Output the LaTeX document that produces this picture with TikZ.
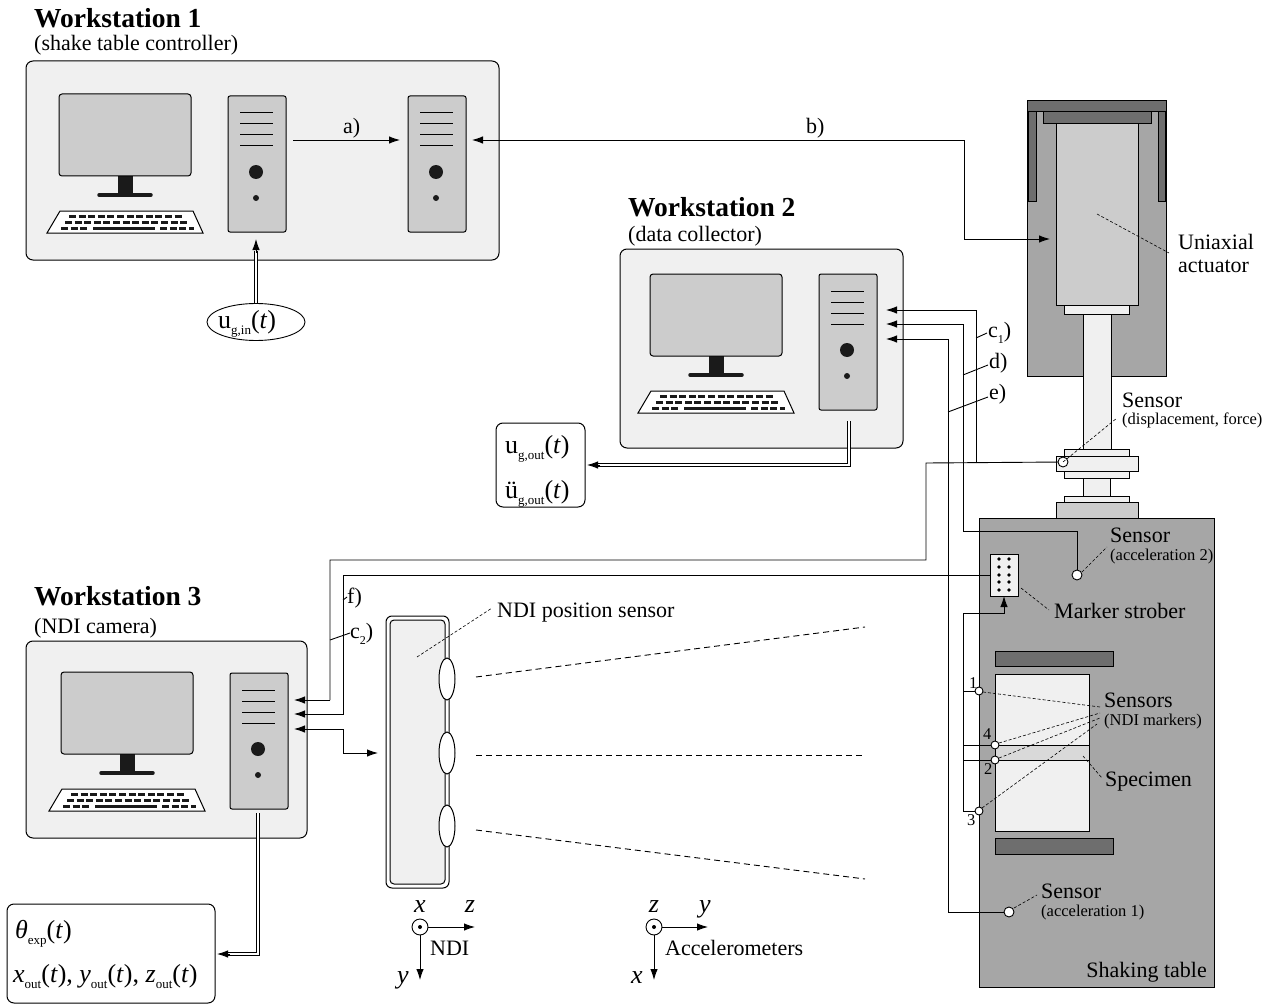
\documentclass[tikz,border=0pt]{standalone}
\usepackage{fontspec}
\setmainfont{Liberation Serif}
\usetikzlibrary{arrows.meta,calc,shapes.geometric}

\definecolor{lightfill}{HTML}{F0F0F0}
\definecolor{midfill}{HTML}{CCCCCC}
\definecolor{housing}{HTML}{A6A6A6}
\definecolor{darkplate}{HTML}{6E6E6E}
\definecolor{keydark}{HTML}{1A1A1A}
\definecolor{band}{HTML}{D9D9D9}

\newcommand\fsTitle{\fontsize{27.5}{30}\selectfont\bfseries}
\newcommand\fsSub{\fontsize{22}{24}\selectfont}
\newcommand\fsLab{\fontsize{22}{24}\selectfont}
\newcommand\fsSmall{\fontsize{16.5}{18}\selectfont}
\newcommand\fsMath{\fontsize{26}{28}\selectfont}
\newcommand\sbx[1]{\raisebox{-0.25em}{\fontsize{13}{13}\selectfont #1}}
\newcommand\sbs[1]{\raisebox{-0.3em}{\fontsize{12}{12}\selectfont #1}}

\tikzset{
  wire/.style={line width=0.9pt},
  arr/.style={wire,-{Latex[length=11pt,width=7.5pt]}},
  darr/.style={wire,{Latex[length=11pt,width=7.5pt]}-{Latex[length=11pt,width=7.5pt]}},
  dbl/.style={double, double distance=2.2pt, line width=0.7pt},
  lead/.style={dash pattern=on 3pt off 2pt, line width=0.6pt},
  ray/.style={dash pattern=on 6pt off 4pt, line width=0.9pt},
  wsbox/.style={fill=lightfill, draw, line width=1pt, rounded corners=7pt},
  part/.style={draw, line width=0.9pt},
  txt/.style={inner sep=0pt, anchor=base west},
  monitor/.pic={
    \fill[keydark] (59,80) rectangle (74,101);
    \draw[keydark, line width=3.5pt, line cap=round] (40,101) -- (92,101);
    \draw[fill=midfill, line width=1pt, rounded corners=3pt] (0,0) rectangle (132,82);
    \draw[fill=white, line width=1pt] (1,117) -- (134,117) -- (144,139) -- (-12,139) -- cycle;
    \draw[keydark, line width=3.2pt, dash pattern=on 7pt off 2.6pt] (10,122.5) -- (125,122.5);
    \draw[keydark, line width=3.2pt, dash pattern=on 7pt off 2.6pt] (6,128.5) -- (130,128.5);
    \draw[keydark, line width=3.2pt, dash pattern=on 7pt off 2.6pt] (2,134.5) -- (29,134.5);
    \draw[keydark, line width=3.2pt] (34,134.5) -- (96,134.5);
    \draw[keydark, line width=3.2pt, dash pattern=on 7pt off 2.6pt] (101,134.5) -- (135,134.5);
  },
  tower/.pic={
    \draw[fill=midfill, line width=1pt, rounded corners=2pt] (0,0) rectangle (58,136);
    \foreach \yy in {17,28,39,50} \draw[line width=1pt] (12,\yy) -- (45,\yy);
    \fill[keydark] (28,76) circle[radius=7pt];
    \fill[keydark] (28,102) circle[radius=3pt];
  }
}

\begin{document}
\begin{tikzpicture}[x=1pt,y=-1pt]
\useasboundingbox (0,0) rectangle (1275,1006);
\fill[white] (0,0) rectangle (1275,1006);

% ---------------- Workstation 1 ----------------
\node[txt] (w1t) at (34,28) {\fsTitle Workstation 1};
\node[txt] (w1s) at (34,51) {\fsSub (shake table controller)};
\draw[wsbox] (26,61) rectangle (499,260);
\pic at (59,94) {monitor};
\pic at (228,96) {tower};
\pic at (408,96) {tower};
\coordinate (t1out) at (293,140);
\coordinate (t2in) at (400,140);
\coordinate (t2r) at (472,140);
\coordinate (t1bot) at (256,239);
\draw[arr] (t1out) -- (t2in);
\node[txt] (la) at (343,134) {\fsLab a)};

\node[draw, ellipse, line width=0.9pt, minimum width=98pt, minimum height=37pt, inner sep=0pt] (ugin) at (256,322) {};
\node[txt] (ugint) at (218,328) {\fsMath u\sbx{g,in}(\textit{t})};
\coordinate (dblA) at (256,251);
\draw[dbl] (ugin.north) -- (dblA);
\draw[arr] ($(dblA)+(0,2)$) -- (t1bot);

% ---------------- Workstation 2 ----------------
\node[txt] (w2t) at (628,216) {\fsTitle Workstation 2};
\node[txt] (w2s) at (628,241) {\fsSub (data collector)};
\draw[wsbox] (620,249) rectangle (903,448);
\pic at (650,274) {monitor};
\pic at (819,274) {tower};

\draw[line width=1pt, rounded corners=7pt] (496,423) rectangle (585,507);
\node[txt] (ugout1) at (505,453) {\fsMath u\sbx{g,out}(\textit{t})};
\node[txt] (ugout2) at (505,498) {\fsMath ü\sbx{g,out}(\textit{t})};
\coordinate (w2dn) at (849,421);
\coordinate (ugoutR) at (587,465);
\draw[dbl] (w2dn) |- ($(ugoutR)+(11,0)$);
\draw[arr] ($(ugoutR)+(13,0)$) -- (ugoutR);

% ---------------- Workstation 3 ----------------
\node[txt] (w3t) at (34,605) {\fsTitle Workstation 3};
\node[txt] (w3s) at (34,633) {\fsSub (NDI camera)};
\draw[wsbox] (26,641) rectangle (307,838);
\pic at (61,672) {monitor};
\pic at (230,673) {tower};

\draw[line width=1pt, rounded corners=7pt] (7,904) rectangle (215,1003);
\node[txt] (thexp) at (15,938) {\fsMath \textit{θ}\sbx{exp}(\textit{t})};
\node[txt] (xyz) at (13,982) {\fsMath \textit{x}\sbx{out}(\textit{t}), \textit{y}\sbx{out}(\textit{t}), \textit{z}\sbx{out}(\textit{t})};
\coordinate (w3dn) at (258,813);
\coordinate (thR) at (217,954);
\draw[dbl] (w3dn) |- ($(thR)+(11,0)$);
\draw[arr] ($(thR)+(13,0)$) -- (thR);

% ---------------- Actuator drawing ----------------
\draw[part, fill=housing] (1027,100) rectangle (1166,376);
\draw[part, fill=darkplate] (1027,100) rectangle (1166,111);
\draw[part, fill=darkplate] (1043,111) rectangle (1151,123);
\draw[part, fill=darkplate] (1028,111) rectangle (1036,201);
\draw[part, fill=darkplate] (1158,111) rectangle (1165,201);
\draw[part, fill=midfill] (1056,123) rectangle (1138,305);
\draw[part, fill=lightfill] (1064,305) rectangle (1129,314);
\draw[part, fill=lightfill] (1083,314) rectangle (1111,449);
\draw[part, fill=lightfill] (1064,449) rectangle (1129,478);
\draw[part, fill=lightfill] (1056,456) rectangle (1138,471);
\draw[part, fill=lightfill] (1083,478) rectangle (1110,496);
\draw[part, fill=lightfill] (1064,496) rectangle (1129,502);
\draw[part, fill=midfill] (1056,502) rectangle (1138,518);
\draw[lead] (1097,214) -- (1169,253);
\node[txt] (act1) at (1178,249) {\fsLab Uniaxial};
\node[txt] (act2) at (1178,272) {\fsLab actuator};

% control line between the controller and the actuator
\coordinate (actin) at (1050,239);
\draw[darr] (t2r) -- (964,140) |- (actin);
\node[txt] (lb) at (806,134) {\fsLab b)};

% ---------------- Shaking table ----------------
\draw[part, fill=housing] (979,518) rectangle (1214,987);
\node[inner sep=0pt, anchor=base east] (stab) at (1207,977) {\fsLab Shaking table};
\draw[part, fill=darkplate] (995,651) rectangle (1113,666);
\draw[part, fill=lightfill] (995,674) rectangle (1089,745);
\draw[part, fill=band] (995,745) rectangle (1089,760);
\draw[part, fill=lightfill] (995,760) rectangle (1089,831);
\draw[part, fill=darkplate] (995,838) rectangle (1113,854);

% marker strober
\draw[part, fill=lightfill] (990,554) rectangle (1018,596);
\foreach \yy in {559,567,575,582,590} {
  \fill (999,\yy) circle[radius=1.9pt];
  \fill (1009,\yy) circle[radius=1.9pt];
}
\coordinate (msL) at (990,575);
\coordinate (msB) at (1004,596);
\draw[lead] (1021,588) -- (1049,610);
\node[txt] (mslab) at (1054,618) {\fsLab Marker strober};

% sensors on the table and actuator
\coordinate (sdisp) at (1063,462);
\coordinate (sacc2) at (1077,575);
\coordinate (sacc1) at (1009,912);
\coordinate (m1) at (979,691);
\coordinate (m4) at (995,745);
\coordinate (m2) at (995,760);
\coordinate (m3) at (979,811);

% wiring: sensors to the workstations
\coordinate (w2a) at (886,310);
\coordinate (w2b) at (886,324);
\coordinate (w2c) at (886,339);
\coordinate (w3a) at (294,700);
\coordinate (w3b) at (294,714);
\coordinate (w3c) at (294,729);
\coordinate (ndiIn) at (378,753);

\draw[wire] (sdisp) -- (926,463) -- (926,560) -- (330,560) -- (330,700) coordinate (c2b);
\draw[arr] (c2b) -- (w3a);
\draw[arr] (976,463) -- (976,310) -- (w2a);
\draw[arr] (sacc2) -- (1077,531) -- (963,531) -- (963,324) -- (w2b);
\draw[arr] (sacc1) -- (948,912) -- (948,339) -- (w2c);
\draw[arr] (msL) -- (343,575) -- (343,714) -- (w3b);
\draw[darr] (w3c) -- (343,729) -- (343,753) -- (ndiIn);

% wiring: NDI markers to the strober
\draw[wire] (m1) -- (963,691);
\draw[wire] (m4) -- (963,745);
\draw[wire] (m2) -- (963,760);
\draw[arr] (m3) -- (963,811) -- (963,613) -- (1004,613) -- (msB);

\foreach \c in {sdisp,sacc2,sacc1}
  \draw[line width=0.9pt, fill=white] (\c) circle[radius=5pt];
\foreach \c in {m1,m4,m2,m3}
  \draw[line width=0.9pt, fill=white] (\c) circle[radius=4pt];

% labels of the wires
\draw[wire] (976,338) -- (987,333);
\node[txt] (lc1) at (988,337) {\fsLab c\sbs{1})};
\draw[wire] (963,375) -- (988,365);
\node[txt] (ld) at (989,368) {\fsLab d)};
\draw[wire] (948,412) -- (988,397);
\node[txt] (le) at (989,399) {\fsLab e)};
\draw[wire] (343,600) -- (347,597);
\node[txt] (lf) at (347,603) {\fsLab f)};
\draw[wire] (330,640) -- (350,633);
\node[txt] (lc2) at (350,638) {\fsLab c\sbs{2})};

% sensor labels
\draw[lead] (sdisp) -- (1117,418);
\node[txt] (sd1) at (1122,407) {\fsLab Sensor};
\node[txt] (sd2) at (1122,424) {\fsSmall (displacement, force)};
\draw[lead] (1082,572) -- (1107,547);
\node[txt] (sa21) at (1110,542) {\fsLab Sensor};
\node[txt] (sa22) at (1110,560) {\fsSmall (acceleration 2)};
\draw[lead] (1014,908) -- (1037,895);
\node[txt] (sa11) at (1041,898) {\fsLab Sensor};
\node[txt] (sa12) at (1041,916) {\fsSmall (acceleration 1)};

\draw[lead] (983,692) -- (1100,707);
\draw[lead] (999,743) -- (1100,713);
\draw[lead] (999,758) -- (1100,718);
\draw[lead] (982,808) -- (1097,724);
\node[txt] (snd1) at (1104,707) {\fsLab Sensors};
\node[txt] (snd2) at (1104,725) {\fsSmall (NDI markers)};
\draw[lead] (1083,756) -- (1102,778);
\node[txt] (spec) at (1105,786) {\fsLab Specimen};

\node[txt] (n1) at (969,688) {\fsSmall 1};
\node[txt] (n4) at (983,739) {\fsSmall 4};
\node[txt] (n2) at (984,774) {\fsSmall 2};
\node[txt] (n3) at (967,825) {\fsSmall 3};

% ---------------- NDI position sensor ----------------
\draw[line width=1pt, fill=white, rounded corners=6pt] (386,616) rectangle (449,888);
\draw[line width=1pt, fill=lightfill, rounded corners=4pt] (390,620) rectangle (445,884);
\foreach \yy/\nm in {679/lensA,753/lensB,826/lensC}
  \draw[line width=1pt, fill=white] (447,\yy) coordinate (\nm) ellipse[x radius=8, y radius=21];
\draw[lead] (417,657) -- (492,608);
\node[txt] (ndilab) at (497,617) {\fsLab NDI position sensor};
\draw[ray] (476,677) -- (865,627);
\draw[ray] (476,755) -- (865,755);
\draw[ray] (476,830) -- (865,879);

% ---------------- coordinate systems ----------------
\coordinate (ndiO) at (420,927);
\draw[line width=0.9pt, fill=white] (ndiO) circle[radius=8pt];
\fill (ndiO) circle[radius=2pt];
\draw[arr] ($(ndiO)+(8,0)$) -- (475,927);
\draw[arr] ($(ndiO)+(0,8)$) -- (420,980);
\node[inner sep=0pt, anchor=base] (nx) at (420,912) {\fsMath\itshape x};
\node[inner sep=0pt, anchor=base] (nz) at (470,912) {\fsMath\itshape z};
\node[inner sep=0pt, anchor=base] (ny) at (403,983) {\fsMath\itshape y};
\node[txt] (ndit) at (430,955) {\fsLab NDI};

\coordinate (accO) at (654,927);
\draw[line width=0.9pt, fill=white] (accO) circle[radius=8pt];
\fill (accO) circle[radius=2pt];
\draw[arr] ($(accO)+(8,0)$) -- (708,927);
\draw[arr] ($(accO)+(0,8)$) -- (654,980);
\node[inner sep=0pt, anchor=base] (az) at (654,912) {\fsMath\itshape z};
\node[inner sep=0pt, anchor=base] (ay) at (705,912) {\fsMath\itshape y};
\node[inner sep=0pt, anchor=base] (ax) at (637,983) {\fsMath\itshape x};
\node[txt] (acct) at (665,955) {\fsLab Accelerometers};
\end{tikzpicture}
\end{document}
